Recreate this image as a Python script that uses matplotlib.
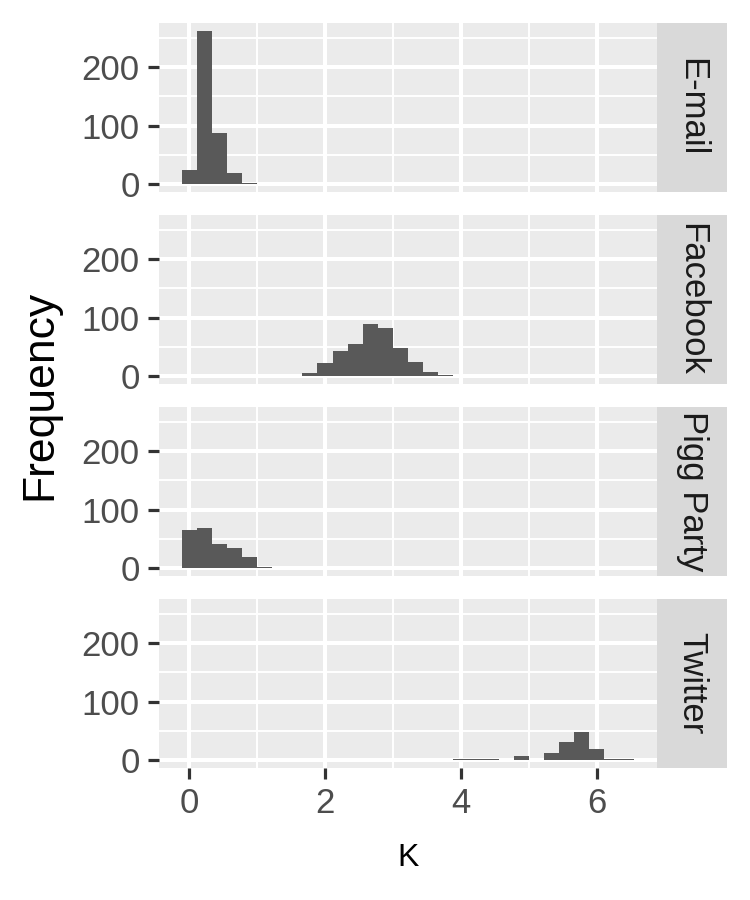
import numpy as np
import matplotlib
matplotlib.use("Agg")
import matplotlib.pyplot as plt

# ---- Data (histogram counts, 30 bins over the K range) ----
platforms = ["E-mail", "Facebook", "Pigg Party", "Twitter"]
k_min, k_max, n_bins = -0.11, 6.55, 30

email_counts = [24, 262, 87, 19, 3] + [0] * 25
facebook_counts = [0] * 8 + [5, 22, 44, 55, 89, 82, 48, 24, 7, 2] + [0] * 12
pigg_counts = [65, 69, 41, 35, 19, 2] + [0] * 24
twitter_counts = [0] * 18 + [2, 2, 2, 0, 7, 0, 12, 32, 49, 19, 3, 2]

counts = [email_counts, facebook_counts, pigg_counts, twitter_counts]

x_major = [0, 2, 4, 6]
x_minor = [1, 3, 5]
y_major = [0, 100, 200]
y_minor = [50, 150, 250]

# ---- Style ----
plt.rcParams["font.family"] = ["Liberation Sans", "DejaVu Sans"]
W, H = 750, 900
panel_bg = "#EBEBEB"
strip_bg = "#D9D9D9"
bar_col = "#595959"

edges = np.linspace(k_min, k_max, n_bins + 1)
centers = (edges[:-1] + edges[1:]) / 2
rng = k_max - k_min
xlim = (k_min - 0.05 * rng, k_max + 0.05 * rng)
ymax = max(max(c) for c in counts)
ylim = (-0.05 * ymax, 1.05 * ymax)

fig = plt.figure(figsize=(W / 100, H / 100), dpi=100)

left, right, strip_right = 159, 657, 727
tops = [23, 215, 407, 599]
ph = 169

for i, (name, c) in enumerate(zip(platforms, counts)):
    top = tops[i]
    ax = fig.add_axes([left / W, 1 - (top + ph) / H, (right - left) / W, ph / H])
    ax.set_facecolor(panel_bg)
    ax.hist(centers, bins=edges, weights=c, color=bar_col, zorder=3)
    ax.set_xlim(*xlim)
    ax.set_ylim(*ylim)
    ax.set_xticks(x_major)
    ax.set_xticks(x_minor, minor=True)
    ax.set_yticks(y_major)
    ax.set_yticks(y_minor, minor=True)
    ax.grid(which="major", color="white", linewidth=2.9, zorder=1)
    ax.grid(which="minor", color="white", linewidth=1.4, zorder=1)
    ax.set_axisbelow(True)
    for s in ax.spines.values():
        s.set_visible(False)
    ax.tick_params(which="major", length=8, width=2.3, color="#333333",
                   labelsize=25, labelcolor="#4D4D4D", pad=6)
    ax.tick_params(which="minor", length=0)
    if i < 3:
        ax.tick_params(axis="x", which="major", length=0, labelbottom=False)

    sx = fig.add_axes([right / W, 1 - (top + ph) / H, (strip_right - right) / W, ph / H])
    sx.set_facecolor(strip_bg)
    sx.set_xticks([])
    sx.set_yticks([])
    for s in sx.spines.values():
        s.set_visible(False)
    sx.text(0.5, 0.5, name, rotation=-90, ha="center", va="center",
            fontsize=25, color="#1A1A1A", transform=sx.transAxes)

fig.text(40 / W, 1 - 395 / H, "Frequency", rotation=90, ha="center", va="center",
         fontsize=32, color="black")
fig.text(408 / W, 1 - 858 / H, "K", ha="center", va="center", fontsize=23, color="black")

fig.savefig("out.png", dpi=100, facecolor="white")
